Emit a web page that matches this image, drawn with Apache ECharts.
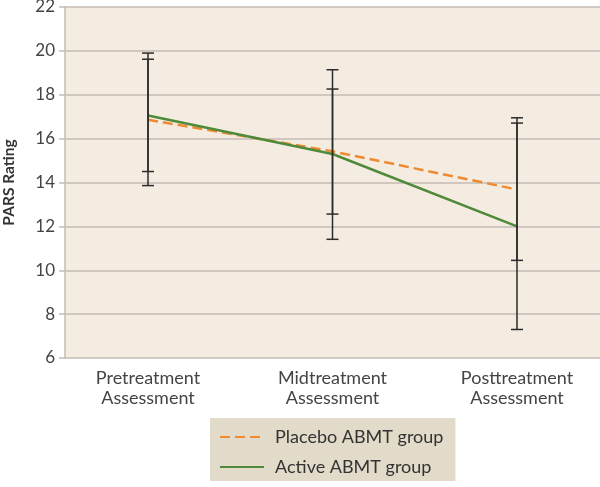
<!DOCTYPE html>
<html>
<head>
<meta charset="utf-8">
<script src="https://cdn.jsdelivr.net/npm/echarts@6/dist/echarts.min.js"></script>
<style>
html,body{margin:0;padding:0;background:#fff;}
#c{width:600px;height:487px;}
</style>
</head>
<body>
<div id="c"></div>
<script>
const categories = ['Pretreatment\nAssessment', 'Midtreatment\nAssessment', 'Posttreatment\nAssessment'];
const placeboMean = [16.86, 15.42, 13.68];
const activeMean = [17.05, 15.3, 12.0];
const placeboLow = [13.86, 12.56, 10.45];
const placeboHigh = [19.9, 18.26, 16.95];
const activeLow = [14.5, 11.41, 7.3];
const activeHigh = [19.62, 19.14, 16.71];
const yTicks = [6, 8, 10, 12, 14, 16, 18, 20, 22];

const FONT = 'Lato';
const chart = echarts.init(document.getElementById('c'));

function errData(lo, hi) {
  return lo.map((v, i) => [i, v, hi[i]]);
}
function renderErr(params, api) {
  const x = api.value(0);
  const p1 = api.coord([x, api.value(1)]);
  const p2 = api.coord([x, api.value(2)]);
  const hw = 6;
  const st = { stroke: '#2b2b2b', lineWidth: 1.5 };
  return {
    type: 'group',
    children: [
      { type: 'line', shape: { x1: p1[0], y1: p1[1], x2: p2[0], y2: p2[1] }, style: st },
      { type: 'line', shape: { x1: p1[0] - hw, y1: p1[1], x2: p1[0] + hw, y2: p1[1] }, style: st },
      { type: 'line', shape: { x1: p2[0] - hw, y1: p2[1], x2: p2[0] + hw, y2: p2[1] }, style: st }
    ]
  };
}

chart.setOption({
  animation: false,
  textStyle: { fontFamily: FONT },
  grid: {
    left: 65, top: 7, width: 535, height: 351,
    outerBoundsMode: 'none',
    containLabel: false,
    show: true, backgroundColor: '#f5ece1', borderWidth: 0
  },
  legend: {
    orient: 'vertical',
    left: 210, top: 418,
    backgroundColor: '#e2dbca',
    padding: [10, 12, 5, 9],
    itemWidth: 44, itemHeight: 14, itemGap: 12,
    itemStyle: { opacity: 0 },
    textStyle: { fontSize: 18, color: '#333', fontFamily: FONT, padding: [0, 0, 0, 6] },
    data: ['Placebo ABMT group', 'Active ABMT group']
  },
  xAxis: {
    type: 'value',
    min: -0.45, max: 2.45,
    splitLine: { show: false },
    axisLine: { show: false },
    axisTick: { show: false },
    axisLabel: {
      customValues: [0, 1, 2],
      formatter: v => categories[Math.round(v)],
      fontSize: 18, color: '#444', lineHeight: 20, margin: 10,
      fontFamily: FONT
    }
  },
  yAxis: {
    type: 'value',
    min: 6, max: 22, interval: 2,
    name: 'PARS Rating',
    nameLocation: 'middle',
    nameGap: 48,
    nameTextStyle: { fontSize: 15.5, fontWeight: 'bold', color: '#333', fontFamily: FONT },
    axisLine: { show: true, onZero: false, lineStyle: { color: '#c3bcb4', width: 1.5 } },
    axisTick: { show: true, length: 6, lineStyle: { color: '#c3bcb4', width: 1.5 } },
    axisLabel: { fontSize: 17, color: '#444', margin: 10, fontFamily: FONT,
      formatter: v => yTicks.includes(v) ? String(v) : '' },
    splitLine: { show: true, lineStyle: { color: '#c3bcb4', width: 1.5 } }
  },
  series: [
    {
      name: 'Placebo ABMT group', type: 'line',
      data: placeboMean.map((v, i) => [i, v]),
      symbol: 'none',
      lineStyle: { color: '#ef8a30', width: 2.5, type: [10, 5] },
      itemStyle: { color: '#ef8a30' },
      z: 3
    },
    {
      name: 'Active ABMT group', type: 'line',
      data: activeMean.map((v, i) => [i, v]),
      symbol: 'none',
      lineStyle: { color: '#4e8a3a', width: 2.5 },
      itemStyle: { color: '#4e8a3a' },
      z: 4
    },
    { type: 'custom', renderItem: renderErr, data: errData(placeboLow, placeboHigh), z: 5, silent: true },
    { type: 'custom', renderItem: renderErr, data: errData(activeLow, activeHigh), z: 5, silent: true }
  ]
});
</script>
</body>
</html>
